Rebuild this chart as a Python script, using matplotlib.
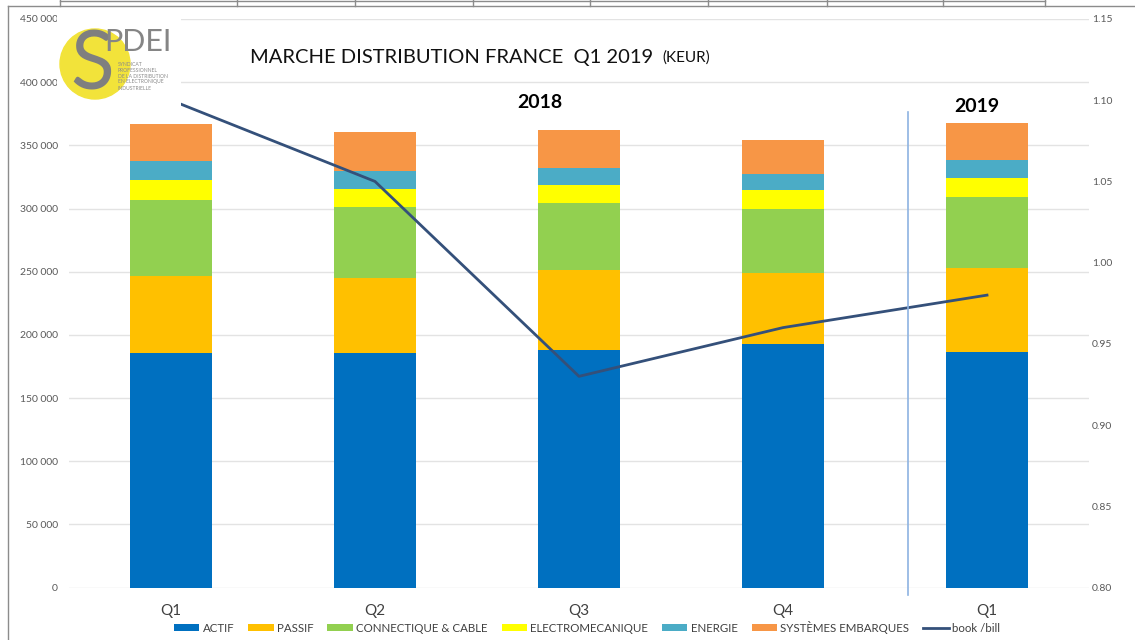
import matplotlib.pyplot as plt
import numpy as np
from matplotlib.patches import Circle, Rectangle
from matplotlib.lines import Line2D
from matplotlib.ticker import FuncFormatter

# data (KEUR)
quarters = ["Q1", "Q2", "Q3", "Q4", "Q1"]
actif = [185400, 185400, 188200, 192900, 186400]
passif = [61200, 59400, 63400, 56300, 66500]
connectique = [60000, 56300, 52500, 50700, 56300]
electromeca = [16100, 14500, 14800, 14800, 15300]
energie = [15200, 13800, 12900, 12900, 14200]
systemes = [28800, 30800, 30700, 26700, 29300]
book_bill = [1.10, 1.05, 0.93, 0.96, 0.98]

series_names = ["ACTIF", "PASSIF", "CONNECTIQUE & CABLE", "ELECTROMECANIQUE",
                "ENERGIE", "SYSTÈMES EMBARQUES"]
series_colors = ["#0070C0", "#FFC000", "#92D050", "#FFFF00", "#4BACC6", "#F79646"]

plt.rcParams['font.family'] = ['Lato', 'DejaVu Sans']

W, H = 1135, 640
fig = plt.figure(figsize=(W / 100, H / 100), dpi=100)

def fx(px):
    return px / W

def fy(py):
    return 1 - py / H

ax = fig.add_axes([fx(69), fy(587.5), fx(1089) - fx(69), fy(19) - fy(587.5)])
ax2 = ax.twinx()

x = np.arange(len(quarters))
bottom = np.zeros(len(quarters))
for vals, name, col in zip([actif, passif, connectique, electromeca, energie, systemes],
                           series_names, series_colors):
    ax.bar(x, vals, width=0.4, bottom=bottom, color=col, label=name, zorder=2)
    bottom += np.array(vals)

ax.set_xlim(-0.5, len(quarters) - 0.5)
ax.set_ylim(0, 450000)
ax.set_yticks(np.arange(0, 450001, 50000))
ax.yaxis.set_major_formatter(FuncFormatter(lambda v, p: f"{int(v):,}".replace(",", " ")))
ax.grid(axis='y', color='#e3e3e3', linewidth=1, zorder=0)
ax.set_axisbelow(True)
ax.set_xticks(x)
ax.set_xticklabels(quarters, fontsize=11, color='#404040')
ax.tick_params(axis='x', length=0, pad=12)
ax.tick_params(axis='y', length=0, labelsize=7.5, labelcolor='#595959', pad=8)
for s in ax.spines.values():
    s.set_visible(False)

line, = ax2.plot(x, book_bill, color='#34507a', linewidth=2, label='book /bill', zorder=3)
ax2.set_ylim(0.80, 1.15)
ax2.set_yticks(np.arange(0.80, 1.151, 0.05))
ax2.yaxis.set_major_formatter(FuncFormatter(lambda v, p: f"{v:.2f}"))
ax2.tick_params(axis='y', length=0, labelsize=7.5, labelcolor='#595959', pad=2)
for s in ax2.spines.values():
    s.set_visible(False)

# separator between 2018 and 2019
fig.add_artist(Line2D([fx(908), fx(908)], [fy(112), fy(595)], color='#8db3e2', linewidth=1.2))

# title and year labels
fig.text(fx(250), fy(57), "MARCHE DISTRIBUTION FRANCE  Q1 2019", fontsize=14.5,
         color='#111111', va='center', ha='left')
fig.text(fx(662), fy(58), "(KEUR)", fontsize=11, color='#111111', va='center', ha='left')
fig.text(fx(540), fy(102), "2018", fontsize=14, fontweight='bold', ha='center', va='center')
fig.text(fx(977), fy(106), "2019", fontsize=14, fontweight='bold', ha='center', va='center')

# legend
handles, labels = ax.get_legend_handles_labels()
handles.append(line)
labels.append('book /bill')
fig.legend(handles, labels, loc='center', bbox_to_anchor=(fx(587), fy(627)), ncol=7,
           frameon=False, fontsize=8.3, handlelength=2.2, handleheight=0.6,
           handletextpad=0.3, columnspacing=1.2, labelcolor='#404040')

# logo block (covers the top gridlines and the start of the line)
logo = fig.add_axes([fx(57), fy(108), fx(124), fy(14) - fy(108)], zorder=10)
logo.set_xlim(0, 124)
logo.set_ylim(94, 0)
logo.axis('off')
logo.add_patch(Rectangle((0, 0), 124, 94, color='white'))
logo.add_patch(Circle((38, 50), 35, color='#f2e33a'))
logo.text(35, 52, "S", fontsize=58, color='#7f7f7f', ha='center', va='center')
logo.text(47, 28, "PDEI", fontsize=22, color='#858585', ha='left', va='center')
for i, t in enumerate(["SYNDICAT", "PROFESSIONNEL", "DE LA DISTRIBUTION",
                       "EN ELECTRONIQUE", "INDUSTRIELLE"]):
    logo.text(61, 50 + i * 6, t, fontsize=3.6, color='#8a8a8a', ha='left', va='center')

# frame decoration
fig.add_artist(Line2D([fx(8), fx(8)], [fy(6), fy(640)], color='#8c8c8c', linewidth=1))
fig.add_artist(Line2D([fx(8), fx(1135)], [fy(6), fy(6)], color='#8c8c8c', linewidth=1))
fig.add_artist(Line2D([fx(60), fx(1045)], [fy(1), fy(1)], color='#8c8c8c', linewidth=1))
for px in [60, 237, 355, 473, 590, 708, 827, 943, 1045]:
    fig.add_artist(Line2D([fx(px), fx(px)], [fy(0), fy(6)], color='#8c8c8c', linewidth=1))

fig.savefig("out.png", dpi=100)
